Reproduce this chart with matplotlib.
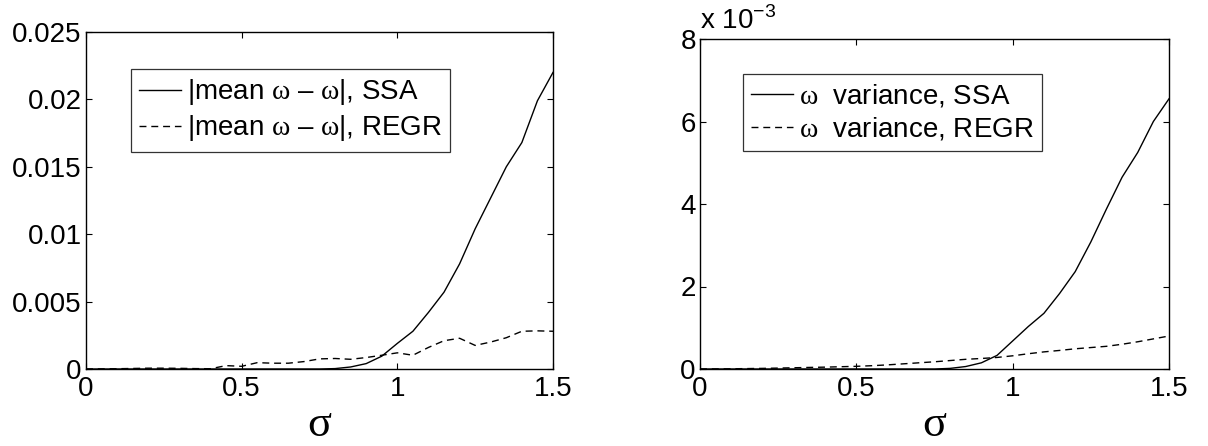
import matplotlib
matplotlib.use("Agg")
import matplotlib.pyplot as plt

plt.rcParams["font.family"] = ["Liberation Sans", "DejaVu Sans"]
plt.rcParams["mathtext.fontset"] = "custom"
plt.rcParams["mathtext.rm"] = "Liberation Serif"
plt.rcParams["mathtext.sf"] = "Liberation Sans"

# noise level grid
sigma = [0.00, 0.05, 0.10, 0.15, 0.20, 0.25, 0.30, 0.35, 0.40, 0.45,
         0.50, 0.55, 0.60, 0.65, 0.70, 0.75, 0.80, 0.85, 0.90, 0.95,
         1.00, 1.05, 1.10, 1.15, 1.20, 1.25, 1.30, 1.35, 1.40, 1.45, 1.50]

# |mean omega - omega|
bias_ssa = [0, 0, 0, 0, 0, 0, 0, 0, 0, 0,
            0, 0, 0, 0, 0, 0, 0.00003, 0.00015, 0.0004, 0.00095,
            0.0019, 0.0028, 0.0042, 0.0057, 0.0078, 0.0104, 0.0127, 0.0150, 0.0168, 0.0199, 0.0220]
bias_regr = [0, 0.00001, 0.00002, 0.00004, 0.00006, 0.00006, 0.00005, 0.00003, 0.00002, 0.00025,
             0.00020, 0.00047, 0.00043, 0.00043, 0.00055, 0.00075, 0.00078, 0.00072, 0.00085, 0.00102,
             0.00120, 0.00102, 0.00160, 0.00210, 0.00228, 0.00175, 0.00200, 0.00232, 0.00280, 0.00283, 0.00280]

# omega variance, in units of 1e-3
var_ssa = [0, 0, 0, 0, 0, 0, 0, 0, 0, 0,
           0, 0, 0, 0, 0, 0, 0.015, 0.06, 0.15, 0.33,
           0.68, 1.03, 1.35, 1.83, 2.36, 3.08, 3.88, 4.65, 5.25, 6.00, 6.55]
var_regr = [0, 0.002, 0.005, 0.010, 0.015, 0.022, 0.030, 0.038, 0.045, 0.055,
            0.065, 0.080, 0.100, 0.125, 0.150, 0.175, 0.205, 0.235, 0.255, 0.280,
            0.320, 0.370, 0.415, 0.450, 0.490, 0.520, 0.550, 0.600, 0.660, 0.730, 0.800]

x_ticks = [0, 0.5, 1, 1.5]
x_ticklabels = ["0", "0.5", "1", "1.5"]
left_yticks = [0, 0.005, 0.01, 0.015, 0.02, 0.025]
left_yticklabels = ["0", "0.005", "0.01", "0.015", "0.02", "0.025"]
right_yticks = [0, 2, 4, 6, 8]
right_yticklabels = ["0", "2", "4", "6", "8"]

W, H = 1208, 446
fig = plt.figure(figsize=(W / 100, H / 100), dpi=100)

FS = 20
DASH = (5, 3.5)
ax1 = fig.add_axes([86 / W, 1 - 369 / H, 467 / W, 337 / H])
ax2 = fig.add_axes([700 / W, 1 - 369 / H, 469 / W, 330 / H])

omega = r"$\mathrm{\omega}$"
ax1.plot(sigma, bias_ssa, color="black", lw=1.0, label="|mean " + omega + " \u2013 " + omega + "|, SSA")
ax1.plot(sigma, bias_regr, color="black", lw=1.0, dashes=DASH, label="|mean " + omega + " \u2013 " + omega + "|, REGR")
ax1.set_ylim(0, 0.025)
ax1.set_yticks(left_yticks, left_yticklabels)

ax2.plot(sigma, var_ssa, color="black", lw=1.0, label=omega + "  variance, SSA")
ax2.plot(sigma, var_regr, color="black", lw=1.0, dashes=DASH, label=omega + "  variance, REGR")
ax2.set_ylim(0, 8)
ax2.set_yticks(right_yticks, right_yticklabels)
ax2.text(0.0, 1.0 + 4 / 330, r"x 10$^{\mathsf{-3}}$", transform=ax2.transAxes,
         fontsize=FS, ha="left", va="bottom")

legend_anchor = {ax1: (45 / 467, 300 / 337), ax2: (43 / 469, 295 / 330)}
for ax in (ax1, ax2):
    ax.set_xlim(0, 1.5)
    ax.set_xticks(x_ticks, x_ticklabels)
    ax.tick_params(direction="in", length=4, width=0.8, top=True, right=True,
                   labelsize=FS)
    ax.tick_params(axis="x", pad=5)
    ax.tick_params(axis="y", pad=3)
    for s in ax.spines.values():
        s.set_linewidth(1.0)
    ax.set_xlabel("\u03c3", fontfamily="Liberation Serif", fontsize=32)
    ax.xaxis.set_label_coords(0.5, -56 / (ax.get_position().height * H))
    ax.xaxis.label.set_va("center")
    leg = ax.legend(loc="upper left", bbox_to_anchor=legend_anchor[ax], borderaxespad=0,
                    fontsize=FS, fancybox=False, frameon=True, handlelength=1.5,
                    handletextpad=0.2, labelspacing=0.22, borderpad=0.3)
    leg.get_frame().set_edgecolor("black")
    leg.get_frame().set_linewidth(0.9)

fig.savefig("out.png", dpi=100)
